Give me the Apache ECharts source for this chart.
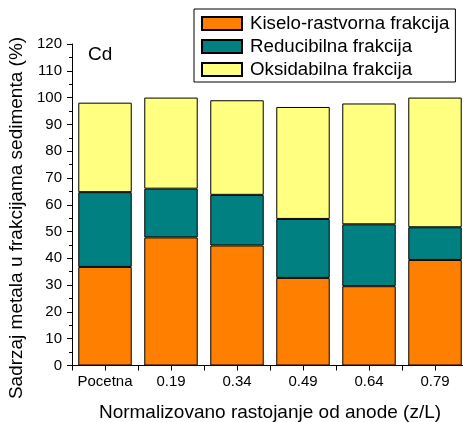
<!DOCTYPE html>
<html>
<head>
<meta charset="utf-8">
<script src="https://cdn.jsdelivr.net/npm/echarts@6/dist/echarts.min.js"></script>
<style>
  html, body { margin: 0; padding: 0; background: #fff; }
  #chart { width: 463px; height: 422px; }
</style>
</head>
<body>
<div id="chart"></div>
<script>
// Distance from anode (normalized) and the three sediment fractions of Cd (%)
const categories = ['Pocetna', '0.19', '0.34', '0.49', '0.64', '0.79'];
const kiseloRastvorna = [36.8, 47.8, 44.8, 32.7, 29.6, 39.4];
const reducibilna     = [27.9, 18.2, 18.9, 22.0, 23.1, 12.2];
const oksidabilna     = [33.4, 34.0, 35.3, 41.8, 45.1, 48.4];
const seriesNames = ['Kiselo-rastvorna frakcija', 'Reducibilna frakcija', 'Oksidabilna frakcija'];
const seriesColors = ['#FF8000', '#008080', '#FFFF80'];

const FONT = 'Liberation Sans, Arial, sans-serif';
const chart = echarts.init(document.getElementById('chart'), null, { renderer: 'canvas' });

function barSeries(name, data, color) {
  return {
    name: name,
    type: 'bar',
    stack: 'total',
    data: data,
    xAxisIndex: 0,
    barCategoryGap: '19%',
    itemStyle: { color: color, borderColor: '#000', borderWidth: 1 },
    emphasis: { disabled: true },
    animation: false
  };
}

chart.setOption({
  backgroundColor: '#fff',
  animation: false,
  textStyle: { fontFamily: FONT, color: '#000' },
  grid: { left: 72, top: 44, width: 396, height: 321.5, containLabel: false, outerBoundsMode: 'none' },
  legend: {
    orient: 'vertical',
    left: 194,
    top: 9,
    padding: [5, 6, 3, 7],
    itemWidth: 40,
    itemHeight: 13,
    itemGap: 4,
    borderColor: '#000',
    borderWidth: 1,
    selectedMode: false,
    textStyle: { fontFamily: FONT, fontSize: 18.7, color: '#000', padding: [0, 0, 0, 3] },
    data: seriesNames.map(n => ({ name: n, icon: 'rect' }))
  },
  xAxis: [
    {
      type: 'category',
      data: categories,
      boundaryGap: true,
      axisLine: { show: true, lineStyle: { color: '#000', width: 1 } },
      axisTick: { show: true, length: 5, inside: false, lineStyle: { color: '#000' } },
      axisLabel: { fontFamily: FONT, fontSize: 15, color: '#000', margin: 9, interval: 0 },
      name: 'Normalizovano rastojanje od anode (z/L)',
      nameLocation: 'middle',
      nameGap: 38,
      nameTextStyle: { fontFamily: FONT, fontSize: 19, color: '#000' }
    },
    {
      type: 'category',
      data: categories,
      position: 'bottom',
      boundaryGap: true,
      axisLine: { show: false },
      axisTick: { show: true, alignWithLabel: true, interval: 0, length: 5, lineStyle: { color: '#000' } },
      axisLabel: { show: false }
    }
  ],
  yAxis: {
    type: 'value',
    min: 0,
    max: 120,
    interval: 10,
    axisLine: { show: true, lineStyle: { color: '#000', width: 1 } },
    axisTick: { show: true, length: 5, lineStyle: { color: '#000' } },
    minorTick: { show: true, splitNumber: 2, length: 3, lineStyle: { color: '#000' } },
    splitLine: { show: false },
    axisLabel: { fontFamily: FONT, fontSize: 15, color: '#000', margin: 10 }
  },
  graphic: [
    {
      type: 'text',
      x: 17,
      y: 218,
      rotation: Math.PI / 2,
      style: {
        text: 'Sadrzaj metala u frakcijama sedimenta (%)',
        font: '19px ' + FONT,
        fill: '#000',
        textAlign: 'center',
        textVerticalAlign: 'middle'
      }
    },
    {
      type: 'text',
      left: 88,
      top: 45,
      style: { text: 'Cd', font: '19px ' + FONT, fill: '#000' }
    }
  ],
  series: [
    barSeries(seriesNames[0], kiseloRastvorna, seriesColors[0]),
    barSeries(seriesNames[1], reducibilna, seriesColors[1]),
    barSeries(seriesNames[2], oksidabilna, seriesColors[2])
  ]
});
</script>
</body>
</html>
